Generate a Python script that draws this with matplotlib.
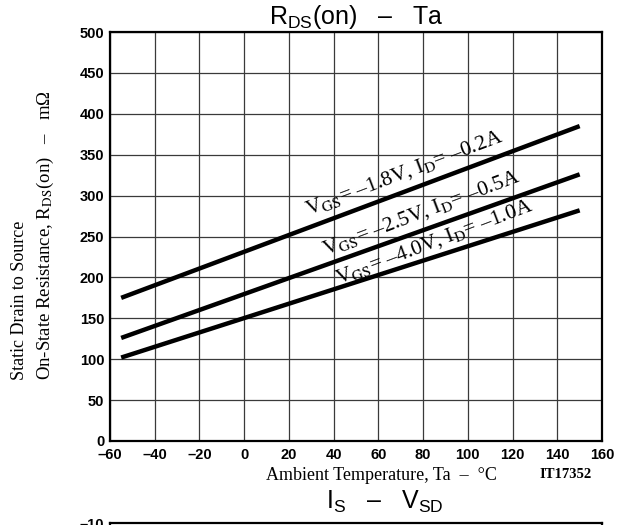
import numpy as np
import matplotlib
matplotlib.use("Agg")
import matplotlib.pyplot as plt

plt.rcParams['mathtext.fontset'] = 'custom'
plt.rcParams['mathtext.rm'] = 'Liberation Sans'
plt.rcParams['mathtext.it'] = 'Liberation Sans'

# data (Ta in degC, RDS(on) in mOhm)
ta = [-55, 150]
rds_18v = [175, 385]
rds_25v = [126, 326]
rds_40v = [102, 282]

labels = [r"V$_{\rm GS}$= –1.8V, I$_{\rm D}$= –0.2A",
          r"V$_{\rm GS}$= –2.5V, I$_{\rm D}$= –0.5A",
          r"V$_{\rm GS}$= –4.0V, I$_{\rm D}$= –1.0A"]
label_pos = [(71.5, 328), (79, 279), (85, 243)]

xticks = np.arange(-60, 161, 20)
yticks = np.arange(0, 501, 50)

fig = plt.figure(figsize=(6.3, 5.25), dpi=100)
ax = fig.add_axes([0.1746, 0.16, 0.781, 0.779])

for y in (rds_18v, rds_25v, rds_40v):
    ax.plot(ta, y, color='black', lw=3.2, solid_capstyle='butt', zorder=3)

for txt, (x, y) in zip(labels, label_pos):
    ax.text(x, y, txt, rotation=20.8, rotation_mode='anchor', ha='center',
            va='center', fontsize=15.5, family='Liberation Serif',
            math_fontfamily='stix', zorder=4)

ax.set_xlim(-60, 160)
ax.set_ylim(0, 500)
ax.set_xticks(xticks)
ax.set_yticks(yticks)
ax.set_xticklabels([f"{v:d}".replace('-', '–') for v in xticks],
                   family='Liberation Sans', fontweight='bold', fontsize=10.5)
ax.set_yticklabels([str(v) for v in yticks],
                   family='Liberation Sans', fontweight='bold', fontsize=10.5)
ax.tick_params(axis='x', length=0, pad=5)
ax.tick_params(axis='y', length=0, pad=4)
ax.grid(True, color='#3a3a3a', lw=0.9)
for s in ax.spines.values():
    s.set_linewidth(1.6)

fig.text(356/630, 1 - 17/525, r"R$_{\rm DS}$(on)   –   Ta", ha='center',
         va='center', fontsize=18, family='Liberation Sans')
fig.text(381/630, 1 - 475/525, "Ambient Temperature, Ta  –  °C", ha='center',
         va='center', fontsize=13, family='Liberation Serif')
fig.text(566/630, 1 - 475/525, "IT17352", ha='center', va='center',
         fontsize=10.5, family='Liberation Serif', fontweight='bold')
fig.text(20/630, 1 - 380/525, "Static Drain to Source", rotation=90,
         ha='center', va='bottom', fontsize=13, family='Liberation Serif')
fig.text(45/630, 1 - 380/525, r"On-State Resistance, R$_{\rm DS}$(on)   –   mΩ",
         rotation=90, ha='center', va='bottom', fontsize=13.5,
         family='Liberation Serif', math_fontfamily='stix')

# next chart on the sheet, cut off by the bottom edge
ax2 = fig.add_axes([0.1746, 0.0038 - 0.5, 0.781, 0.5])
ax2.set_ylim(0, -10)
ax2.set_yticks([-10])
ax2.set_yticklabels(["–10"], family='Liberation Sans', fontweight='bold',
                    fontsize=10.5)
ax2.set_xticks([])
ax2.tick_params(length=0, pad=4)
for s in ax2.spines.values():
    s.set_linewidth(1.6)
fig.text(385/630, 1 - 502/525, r"I$_{\rm S}$   –   V$_{\rm SD}$", ha='center',
         va='center', fontsize=18, family='Liberation Sans')

fig.savefig("out.png", dpi=100)
